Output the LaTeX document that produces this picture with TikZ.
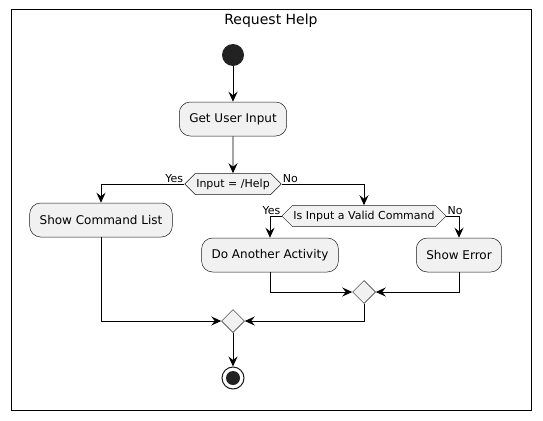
\documentclass[tikz,border=0pt]{standalone}
\usepackage{fontspec}
\setmainfont{DejaVu Sans}
\usepackage{tikz}
\usetikzlibrary{arrows.meta, positioning, shapes.geometric, shapes.symbols}

\definecolor{fondo}{HTML}{F1F1F1}
\definecolor{borde}{HTML}{181818}
\definecolor{punto}{HTML}{222222}

\begin{document}
\begin{tikzpicture}[
    x=1pt, y=-1pt,
    font=\fontsize{12}{14}\selectfont,
    actividad/.style={draw=borde, fill=fondo, rounded corners=11pt,
                      minimum height=34pt, inner xsep=10pt, line width=0.5pt},
    decision/.style={draw=borde, fill=fondo, signal, signal to=west and east,
                     signal pointer angle=90, minimum height=21pt,
                     inner xsep=1pt, inner ysep=0pt, line width=0.5pt,
                     font=\fontsize{11}{13}\selectfont},
    union/.style={draw=borde, fill=fondo, diamond, minimum size=23pt,
                  inner sep=0pt, line width=0.5pt},
    flecha/.style={line width=0.9pt,
                   -{Stealth[length=10pt, width=9pt, inset=3.5pt]}},
    rama/.style={font=\fontsize{11}{13}\selectfont, inner sep=1pt}
  ]
  \useasboundingbox (0,0) rectangle (543,420);

  % --- Marco y titulo ---
  \draw[line width=1pt] (11,10) rectangle (531,410);
  \node[font=\fontsize{14}{16}\selectfont] (titulo) at (271,21) {Request Help};

  % --- Inicio y actividades ---
  \node[circle, fill=punto, minimum size=22pt, inner sep=0pt] (inicio) at (233,55) {};
  \node[actividad] (leer) at (233,119) {Get User Input};
  \node[decision] (esayuda) at (233,184) {Input = /Help};
  \node[actividad] (lista) at (101,220) {Show Command List};
  \node[decision] (valido) at (364,216) {Is Input a Valid Command};
  \node[actividad] (otra) at (270,255) {Do Another Activity};
  \node[actividad] (error) at (459,255) {Show Error};

  % --- Uniones y final ---
  \node[union] (union1) at (364,292) {};
  \node[union] (union2) at (233,321) {};
  \node[circle, draw=borde, fill=white, line width=1pt, minimum size=22pt,
        inner sep=0pt] (fin) at (233,378) {};
  \node[circle, fill=punto, minimum size=14pt, inner sep=0pt] (finpunto) at (fin) {};

  % --- Etiquetas de las ramas ---
  \node[rama, anchor=south east] (si1) at (esayuda.west) {Yes};
  \node[rama, anchor=south west] (no1) at (esayuda.east) {No};
  \node[rama, anchor=south east] (si2) at (valido.west) {Yes};
  \node[rama, anchor=south west] (no2) at (valido.east) {No};

  % --- Flechas ---
  \draw[flecha] (inicio) -- (leer);
  \draw[flecha] (leer) -- (esayuda);
  \draw[flecha] (esayuda.west) -| (lista.north);
  \draw[flecha] (esayuda.east) -| (valido.north);
  \draw[flecha] (valido.west) -| (otra.north);
  \draw[flecha] (valido.east) -| (error.north);
  \draw[flecha] (otra.south) |- (union1.west);
  \draw[flecha] (error.south) |- (union1.east);
  \draw[flecha] (lista.south) |- (union2.west);
  \draw[flecha] (union1.south) |- (union2.east);
  \draw[flecha] (union2) -- (fin);
\end{tikzpicture}
\end{document}
